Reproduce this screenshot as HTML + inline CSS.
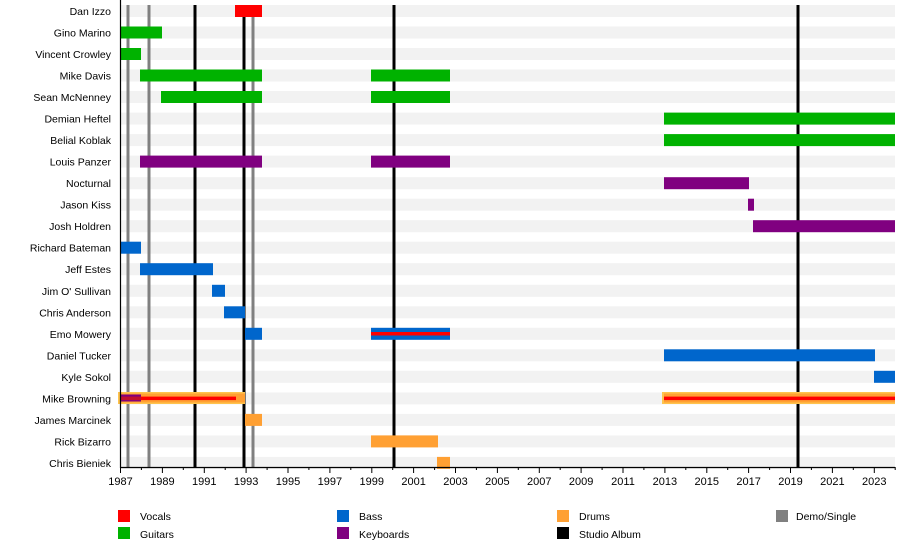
<!DOCTYPE html>
<html><head><meta charset="utf-8"><style>body{margin:0;background:#fff}svg{display:block;font-family:"Liberation Sans",sans-serif}</style></head><body>
<svg width="900" height="557" viewBox="0 0 900 557">
<g fill="#f2f2f2">
<rect x="120" y="5" width="775" height="12"/><rect x="120" y="26.5" width="775" height="12"/><rect x="120" y="48" width="775" height="12"/><rect x="120" y="69.5" width="775" height="12"/><rect x="120" y="91" width="775" height="12"/><rect x="120" y="112.6" width="775" height="12"/><rect x="120" y="134.1" width="775" height="12"/><rect x="120" y="155.6" width="775" height="12"/><rect x="120" y="177.2" width="775" height="12"/><rect x="120" y="198.7" width="775" height="12"/><rect x="120" y="220.2" width="775" height="12"/><rect x="120" y="241.7" width="775" height="12"/><rect x="120" y="263.2" width="775" height="12"/><rect x="120" y="284.8" width="775" height="12"/><rect x="120" y="306.3" width="775" height="12"/><rect x="120" y="327.8" width="775" height="12"/><rect x="120" y="349.3" width="775" height="12"/><rect x="120" y="370.8" width="775" height="12"/><rect x="120" y="392.4" width="775" height="12"/><rect x="120" y="413.9" width="775" height="12"/><rect x="120" y="435.4" width="775" height="12"/><rect x="120" y="456.9" width="775" height="12"/>
</g>
<g stroke="#808080" stroke-width="3"><line x1="128" y1="5" x2="128" y2="467"/><line x1="149" y1="5" x2="149" y2="467"/><line x1="253" y1="5" x2="253" y2="467"/></g>
<g stroke="#000" stroke-width="3"><line x1="195" y1="5" x2="195" y2="467"/><line x1="244" y1="5" x2="244" y2="467"/><line x1="394" y1="5" x2="394" y2="467"/><line x1="798" y1="5" x2="798" y2="467"/></g>
<g>
<rect x="235" y="5" width="27" height="12" fill="#ff0000"/>
<g fill="#00b200">
<rect x="120" y="26.5" width="42" height="12"/>
<rect x="120" y="48" width="21" height="12"/>
<rect x="140" y="69.5" width="122" height="12"/><rect x="371" y="69.5" width="79" height="12"/>
<rect x="161" y="91" width="101" height="12"/><rect x="371" y="91" width="79" height="12"/>
<rect x="664" y="112.6" width="231" height="12"/>
<rect x="664" y="134.1" width="231" height="12"/>
</g>
<g fill="#800080">
<rect x="140" y="155.6" width="122" height="12"/><rect x="371" y="155.6" width="79" height="12"/>
<rect x="664" y="177.2" width="85" height="12"/>
<rect x="748" y="198.7" width="6" height="12"/>
<rect x="753" y="220.2" width="142" height="12"/>
</g>
<g fill="#0066cc">
<rect x="120" y="241.7" width="21" height="12"/>
<rect x="140" y="263.2" width="73" height="12"/>
<rect x="212" y="284.8" width="13" height="12"/>
<rect x="224" y="306.3" width="21" height="12"/>
<rect x="245" y="327.8" width="17" height="12"/><rect x="371" y="327.8" width="79" height="12"/>
<rect x="664" y="349.3" width="211" height="12"/>
<rect x="874" y="370.8" width="21" height="12"/>
</g>
<rect x="371" y="332" width="79" height="3.5" fill="#ff0000"/>
<rect x="118" y="392" width="127" height="12" fill="#ffc34d"/>
<rect x="120" y="393.5" width="125" height="9" fill="#ffa033"/>
<rect x="120" y="396.6" width="116" height="3.5" fill="#ff0000"/>
<rect x="120" y="394.5" width="21" height="7" fill="#800080"/>
<rect x="120" y="396.6" width="21" height="3.5" fill="#c01030"/>
<rect x="662" y="392" width="233" height="12" fill="#ffc34d"/>
<rect x="664" y="393.5" width="231" height="9" fill="#ffa033"/>
<rect x="664" y="396.6" width="231" height="3.5" fill="#ff0000"/>
<g fill="#ffa033">
<rect x="245" y="413.9" width="17" height="12"/>
<rect x="371" y="435.4" width="67" height="12"/>
<rect x="437" y="456.9" width="13" height="12"/>
</g>
</g>
<g stroke="#000" stroke-width="1.2"><line x1="120.5" y1="0" x2="120.5" y2="468"/><line x1="120" y1="467.5" x2="895" y2="467.5"/></g>
<g stroke="#000" stroke-width="1">
<path d="M120.5 467v6M141.4 467v3M162.4 467v6M183.3 467v3M204.3 467v6M225.2 467v3M246.1 467v6M267.1 467v3M288 467v6M308.9 467v3M329.9 467v6M350.8 467v3M371.8 467v6M392.7 467v3M413.6 467v6M434.6 467v3M455.5 467v6M476.4 467v3M497.4 467v6M518.3 467v3M539.3 467v6M560.2 467v3M581.1 467v6M602.1 467v3M623 467v6M643.9 467v3M664.9 467v6M685.8 467v3M706.8 467v6M727.7 467v3M748.6 467v6M769.6 467v3M790.5 467v6M811.4 467v3M832.4 467v6M853.3 467v3M874.3 467v6M895.2 467v3"/>
</g>
<g font-size="11" fill="#000" text-anchor="middle">
<text x="120.5" y="485">1987</text><text x="162.4" y="485">1989</text><text x="204.3" y="485">1991</text><text x="246.1" y="485">1993</text><text x="288" y="485">1995</text><text x="329.9" y="485">1997</text><text x="371.8" y="485">1999</text><text x="413.6" y="485">2001</text><text x="455.5" y="485">2003</text><text x="497.4" y="485">2005</text><text x="539.3" y="485">2007</text><text x="581.1" y="485">2009</text><text x="623" y="485">2011</text><text x="664.9" y="485">2013</text><text x="706.8" y="485">2015</text><text x="748.6" y="485">2017</text><text x="790.5" y="485">2019</text><text x="832.4" y="485">2021</text><text x="874.3" y="485">2023</text>
</g>
<g font-size="10.5" fill="#000" text-anchor="end">
<text x="111" y="15">Dan Izzo</text><text x="111" y="36.5">Gino Marino</text><text x="111" y="58">Vincent Crowley</text><text x="111" y="79.5">Mike Davis</text><text x="111" y="101">Sean McNenney</text><text x="111" y="122.6">Demian Heftel</text><text x="111" y="144.1">Belial Koblak</text><text x="111" y="165.6">Louis Panzer</text><text x="111" y="187.2">Nocturnal</text><text x="111" y="208.7">Jason Kiss</text><text x="111" y="230.2">Josh Holdren</text><text x="111" y="251.7">Richard Bateman</text><text x="111" y="273.2">Jeff Estes</text><text x="111" y="294.8">Jim O' Sullivan</text><text x="111" y="316.3">Chris Anderson</text><text x="111" y="337.8">Emo Mowery</text><text x="111" y="359.3">Daniel Tucker</text><text x="111" y="380.8">Kyle Sokol</text><text x="111" y="402.4">Mike Browning</text><text x="111" y="423.9">James Marcinek</text><text x="111" y="445.4">Rick Bizarro</text><text x="111" y="466.9">Chris Bieniek</text>
</g>
<rect x="118" y="510" width="12" height="12" fill="#ff0000"/><rect x="118" y="527" width="12" height="12" fill="#00b200"/>
<rect x="337" y="510" width="12" height="12" fill="#0066cc"/><rect x="337" y="527" width="12" height="12" fill="#800080"/>
<rect x="557" y="510" width="12" height="12" fill="#ffa033"/><rect x="557" y="527" width="12" height="12" fill="#000"/>
<rect x="776" y="510" width="12" height="12" fill="#808080"/>
<g font-size="10.5" fill="#000">
<text x="140" y="520">Vocals</text><text x="140" y="538">Guitars</text>
<text x="359" y="520">Bass</text><text x="359" y="538">Keyboards</text>
<text x="579" y="520">Drums</text><text x="579" y="538">Studio Album</text>
<text x="796" y="520">Demo/Single</text>
</g>
</svg>
</body></html>
